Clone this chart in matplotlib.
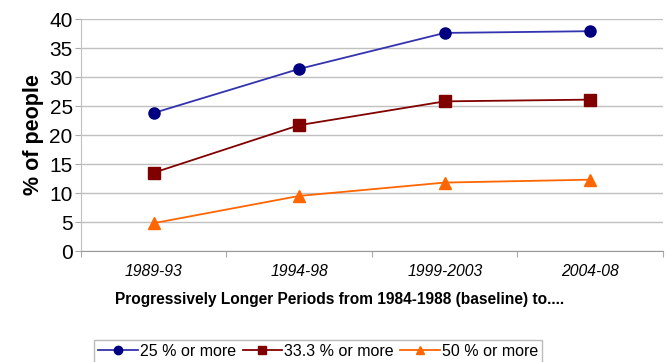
import matplotlib
matplotlib.use('Agg')
import matplotlib.pyplot as plt

# periods and values
periods = ['1989-93', '1994-98', '1999-2003', '2004-08']
pct_25 = [23.8, 31.4, 37.6, 37.9]
pct_33 = [13.5, 21.7, 25.8, 26.1]
pct_50 = [4.8, 9.5, 11.8, 12.3]

plt.rcParams['font.family'] = ['Liberation Sans', 'DejaVu Sans']

fig = plt.figure(figsize=(6.67, 3.62), dpi=100)
ax = fig.add_axes([0.1214, 0.3066, 0.8726, 0.6409])

x = range(len(periods))
ax.plot(x, pct_25, color='#3333b0', marker='o', markersize=8,
        markerfacecolor='#000080', markeredgecolor='#000080', lw=1.3, label='25 % or more')
ax.plot(x, pct_33, color='#800000', marker='s', markersize=8,
        markerfacecolor='#800000', markeredgecolor='#800000', lw=1.3, label='33.3 % or more')
ax.plot(x, pct_50, color='#ff6600', marker='^', markersize=8,
        markerfacecolor='#ff6600', markeredgecolor='#ff6600', lw=1.3, label='50 % or more')

ax.set_xlim(-0.5, 3.5)
ax.set_ylim(0, 40)
ax.set_yticks(range(0, 41, 5))
ax.set_xticks([-0.5, 0.5, 1.5, 2.5, 3.5])
ax.set_xticklabels([])
ax.set_xticks(list(x), minor=True)
ax.set_xticklabels(periods, minor=True, fontstyle='italic', fontsize=11.3)
ax.tick_params(axis='x', which='minor', length=0, pad=9)
ax.tick_params(axis='x', which='major', length=4, color='#aaaaaa')
ax.tick_params(axis='y', labelsize=15, length=4, color='#aaaaaa', pad=2)

ax.grid(axis='y', color='#c0c0c0', lw=1)
ax.set_axisbelow(True)
for s in ['top', 'right']:
    ax.spines[s].set_visible(False)
ax.spines['left'].set_color('#c0c0c0')
ax.spines['bottom'].set_color('#999999')

ax.set_ylabel('% of people', fontsize=15.5, fontweight='bold', labelpad=4)
ax.set_xlabel('Progressively Longer Periods from 1984-1988 (baseline) to....',
              fontsize=11.2, fontweight='bold', labelpad=10, x=0.445)

handles, labels = ax.get_legend_handles_labels()
leg = fig.legend(handles, labels, loc='center', bbox_to_anchor=(0.477, 0.03),
                 ncol=3, fontsize=11.5, frameon=True, fancybox=False,
                 handlelength=2.5, handletextpad=0.1, columnspacing=0.4,
                 borderpad=0.25, markerscale=0.75)
leg.get_frame().set_edgecolor('#aaaaaa')

fig.savefig('out.png', dpi=100)
